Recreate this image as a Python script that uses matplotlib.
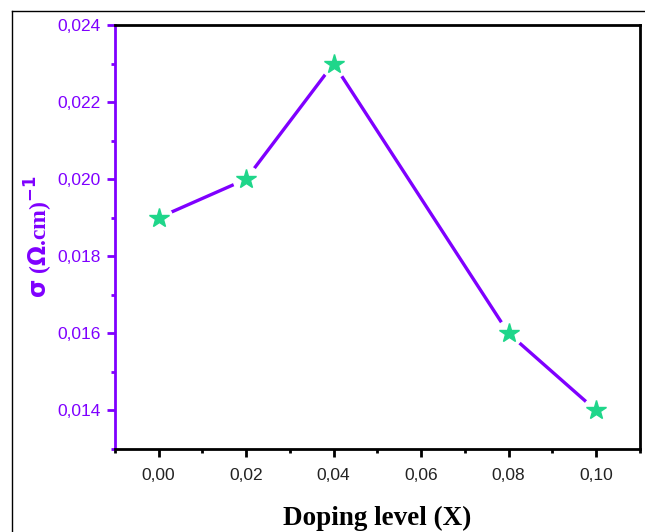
import matplotlib
matplotlib.use("Agg")
import matplotlib.pyplot as plt
from matplotlib.ticker import MultipleLocator, FuncFormatter
from matplotlib.lines import Line2D

# Conductivity versus doping level
doping = [0.00, 0.02, 0.04, 0.08, 0.10]
sigma = [0.019, 0.020, 0.023, 0.016, 0.014]

purple = "#7F00FF"
green = "#1FD68A"

fig = plt.figure(figsize=(6.45, 5.32), dpi=100)
ax = fig.add_axes([0.178, 0.156, 0.814, 0.797])

# Line first, then a white halo under each star so the line stops short of it
ax.plot(doping, sigma, color=purple, lw=2.4, zorder=2, solid_capstyle="butt")
ax.plot(doping, sigma, ls="none", marker="o", ms=19, mfc="white", mec="white",
        zorder=3)
ax.plot(doping, sigma, ls="none", marker="*", ms=15, mfc=green, mec=green,
        zorder=4)

ax.set_xlim(-0.01, 0.11)
ax.set_ylim(0.013, 0.024)

ax.xaxis.set_major_locator(MultipleLocator(0.02))
ax.xaxis.set_minor_locator(MultipleLocator(0.01))
ax.yaxis.set_major_locator(MultipleLocator(0.002))
ax.yaxis.set_minor_locator(MultipleLocator(0.001))

ax.xaxis.set_major_formatter(FuncFormatter(lambda v, p: f"{v:.2f}".replace(".", ",")))
ax.yaxis.set_major_formatter(FuncFormatter(lambda v, p: f"{v:.3f}".replace(".", ",")))

for s in ["top", "right", "bottom"]:
    ax.spines[s].set_color("black")
    ax.spines[s].set_linewidth(2.0)
ax.spines["left"].set_color(purple)
ax.spines["left"].set_linewidth(2.0)

ax.tick_params(axis="x", which="major", direction="out", length=6, width=2,
               color="black", labelsize=12.5, labelcolor="#222222", pad=8)
ax.tick_params(axis="x", which="minor", direction="out", length=3, width=2,
               color="black")
ax.tick_params(axis="y", which="major", direction="out", length=6, width=2,
               color=purple, labelsize=12.5, labelcolor=purple, pad=4)
ax.tick_params(axis="y", which="minor", direction="out", length=3, width=2,
               color=purple)

for lab in ax.get_xticklabels() + ax.get_yticklabels():
    lab.set_family("Liberation Sans")

ax.set_xlabel("Doping level (X)", family="Liberation Serif", fontweight="bold",
              fontsize=19.5, color="black", labelpad=16)
ax.set_ylabel(r"$\mathbf{\sigma}$ ($\mathbf{\Omega}$.cm)$^{\mathbf{-1}}$",
              family="Liberation Serif", fontweight="bold", fontsize=17,
              color=purple, labelpad=2)

# Outer frame lines along the left and top of the canvas
fig.add_artist(Line2D([12 / 645, 12 / 645], [0, 1 - 11 / 532], color="black",
                      lw=1.0, transform=fig.transFigure))
fig.add_artist(Line2D([12 / 645, 1], [1 - 11 / 532, 1 - 11 / 532], color="black",
                      lw=1.0, transform=fig.transFigure))

fig.savefig("out.png", dpi=100)
